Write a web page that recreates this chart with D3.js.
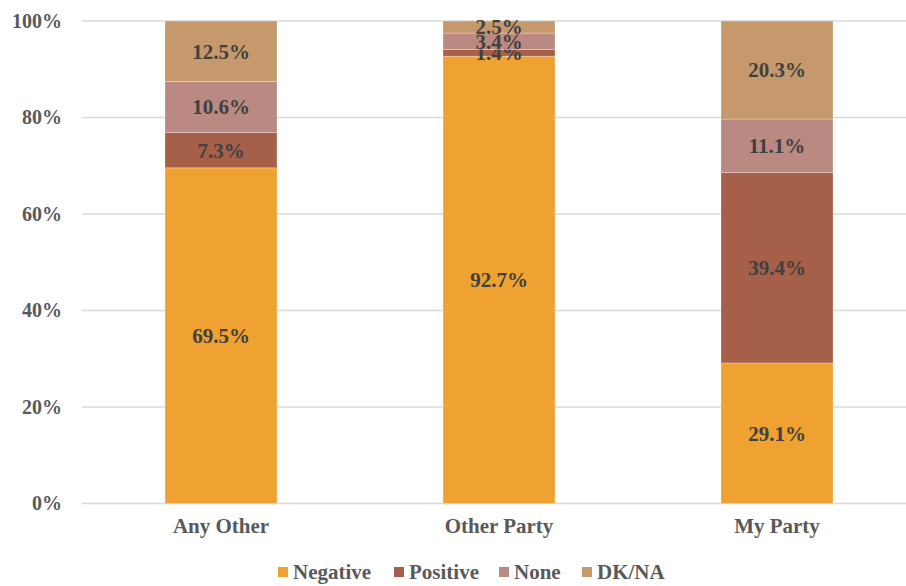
<!DOCTYPE html>
<html>
<head>
<meta charset="utf-8">
<script src="https://cdn.jsdelivr.net/npm/d3@7"></script>
<style>
  html, body { margin: 0; padding: 0; background: #fff; }
  svg text { font-family: "Liberation Serif", "Times New Roman", serif; font-weight: bold; }
</style>
</head>
<body>
<svg id="chart" width="906" height="586"></svg>
<script>
// Response shares per target group (percent)
const categories = ["Any Other", "Other Party", "My Party"];
const seriesNames = ["Negative", "Positive", "None", "DK/NA"];
const negative = [69.5, 92.7, 29.1];
const positive = [7.3, 1.4, 39.4];
const none = [10.6, 3.4, 11.1];
const dkna = [12.5, 2.5, 20.3];
const yTicks = [0, 0.2, 0.4, 0.6, 0.8, 1.0];

const colors = {
  "Negative": "#EFA131",
  "Positive": "#A65F48",
  "None": "#BA8981",
  "DK/NA": "#C5996B"
};

const rows = categories.map((c, i) => ({
  category: c,
  "Negative": negative[i],
  "Positive": positive[i],
  "None": none[i],
  "DK/NA": dkna[i]
}));

const svg = d3.select("#chart");
const plotTop = 21, plotBottom = 503.5, plotLeft = 82, plotRight = 916;

const x = d3.scaleBand().domain(categories).range([plotLeft, plotRight]).paddingInner(0.597).paddingOuter(0.2985);
const y = d3.scaleLinear().domain([0, 1]).range([plotBottom, plotTop]);

// Gridlines
svg.append("g")
  .selectAll("line")
  .data(yTicks)
  .join("line")
  .attr("x1", plotLeft).attr("x2", 906)
  .attr("y1", d => y(d)).attr("y2", d => y(d))
  .attr("stroke", "#d9d9d9").attr("stroke-width", 1.3);

// Y axis labels
const yAxis = d3.axisLeft(y).tickValues(yTicks).tickFormat(d3.format(".0%")).tickSize(0).tickPadding(20);
svg.append("g")
  .attr("transform", `translate(${plotLeft},0)`)
  .call(yAxis)
  .call(g => g.select(".domain").remove())
  .call(g => g.selectAll("text")
    .attr("fill", "#595959")
    .style("font-size", "20px")
    .style("font-family", "'Liberation Serif', serif")
    .style("font-weight", "bold"));

// Stacked, normalised segments
const stack = d3.stack().keys(seriesNames).offset(d3.stackOffsetExpand);
const layers = stack(rows);

const layerG = svg.append("g")
  .selectAll("g")
  .data(layers)
  .join("g")
  .attr("fill", d => colors[d.key]);

layerG.selectAll("rect")
  .data(d => d)
  .join("rect")
  .attr("x", d => x(d.data.category))
  .attr("width", x.bandwidth())
  .attr("y", d => y(d[1]))
  .attr("height", d => y(d[0]) - y(d[1]))
  .attr("stroke", "rgba(255,255,255,0.35)")
  .attr("stroke-width", 0.8);

// Value labels
layerG.selectAll("text")
  .data(d => d.map(p => ({ p, key: d.key })))
  .join("text")
  .attr("x", d => x(d.p.data.category) + x.bandwidth() / 2)
  .attr("y", d => (y(d.p[0]) + y(d.p[1])) / 2)
  .attr("dy", "0.35em")
  .attr("text-anchor", "middle")
  .attr("fill", "#404040")
  .style("font-size", "21px")
  .text(d => d3.format(".1f")(d.p.data[d.key]) + "%");

// Category labels
const xAxis = d3.axisBottom(x).tickSize(0).tickPadding(15);
svg.append("g")
  .attr("transform", `translate(0,${plotBottom})`)
  .call(xAxis)
  .call(g => g.select(".domain").remove())
  .call(g => g.selectAll("text")
    .attr("fill", "#595959")
    .style("font-size", "21px")
    .style("font-family", "'Liberation Serif', serif")
    .style("font-weight", "bold"));

// Legend
const legendTextX = [293, 409, 514, 597];
const legend = svg.append("g")
  .selectAll("g")
  .data(seriesNames)
  .join("g")
  .attr("transform", (d, i) => `translate(${legendTextX[i]},572)`);
legend.append("rect")
  .attr("x", -15).attr("y", -5).attr("width", 10).attr("height", 10)
  .attr("fill", d => colors[d]);
legend.append("text")
  .attr("x", 0).attr("dy", "0.35em")
  .attr("fill", "#595959")
  .style("font-size", "21px")
  .text(d => d);
</script>
</body>
</html>
